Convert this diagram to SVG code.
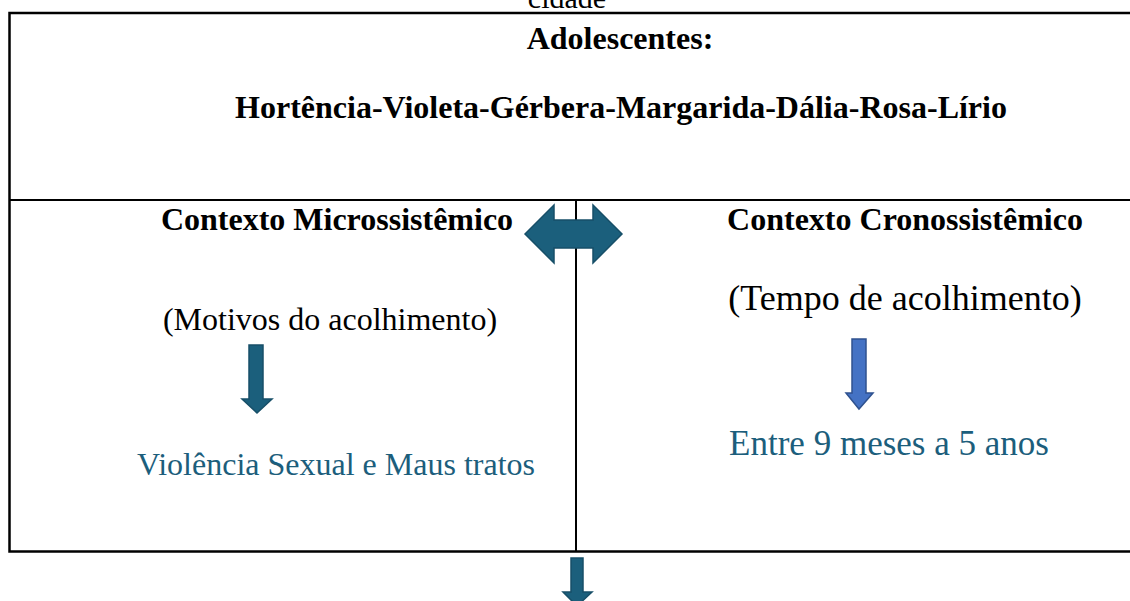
<svg xmlns="http://www.w3.org/2000/svg" width="1130" height="601" viewBox="0 0 1130 601">
<style>
.t{font-family:"Liberation Serif","Times New Roman",serif;font-size:32px;fill:#000;text-anchor:middle}
.b{font-weight:bold}
.c{fill:#1c5e7c}
.frame{fill:none;stroke:#000;stroke-width:2.5}
.ln{stroke:#000;stroke-width:2}
.teal{fill:#1b5f7c;stroke:#174f68;stroke-width:1.5}
.blue{fill:#4472c4;stroke:#2f528f;stroke-width:1.5}
</style>
<rect width="1130" height="601" fill="#fff"/>
<text class="t" x="567" y="8" style="font-size:30px">cidade</text>
<g id="frame">
<path class="frame" d="M1135 13 H9.5 V551.5 H1135"/>
<line class="ln" x1="9" y1="200" x2="1135" y2="200"/>
<line class="ln" x1="576" y1="200" x2="576" y2="551"/>
</g>
<g id="adolescentes">
<text class="t b" x="620" y="49">Adolescentes:</text>
<text class="t b" x="621" y="118">Hortência-Violeta-Gérbera-Margarida-Dália-Rosa-Lírio</text>
</g>
<g id="micro">
<text class="t b" x="337" y="230">Contexto Microssistêmico</text>
<text class="t" x="330" y="330">(Motivos do acolhimento)</text>
<text class="t c" x="336" y="475">Violência Sexual e Maus tratos</text>
</g>
<g id="crono">
<text class="t b" x="905" y="230">Contexto Cronossistêmico</text>
<text class="t" x="905" y="310" style="font-size:36px">(Tempo de acolhimento)</text>
<text class="t c" x="889" y="455" style="font-size:35px">Entre 9 meses a 5 anos</text>
</g>
<g id="connectors">
<polygon class="teal" points="525,234 554,205 554,220 593,220 593,205 622,234 593,263 593,248 554,248 554,263"/>
<polygon class="teal" points="249,345 263,345 263,399 272,399 257,413 242,399 249,399"/>
<polygon class="blue" points="852,339 866,339 866,393 873,393 859,409 846,393 852,393"/>
<polygon class="teal" points="571,558 583,558 583,592 592,592 577,606 563,592 571,592"/>
</g>
</svg>
